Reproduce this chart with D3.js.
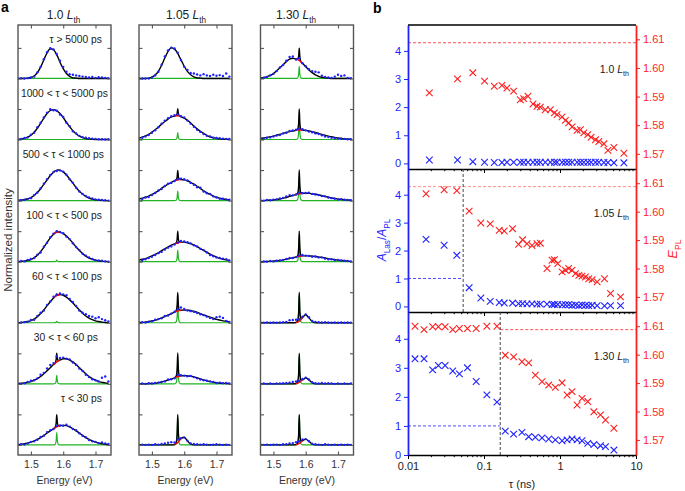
<!DOCTYPE html>
<html>
<head>
<meta charset="utf-8">
<script src="https://d3js.org/d3.v7.min.js"></script>
<style>
body { margin: 0; background: #fff; }
svg { font-family: "Liberation Sans", Arial, Helvetica, sans-serif; }
</style>
</head>
<body>
<svg id="chart" width="685" height="491"></svg>
<script>
/* ---------- panel a data ---------- */
var powers = ["1.0", "1.05", "1.30"];
var delays = ["\u03c4 > 5000 ps", "1000 < \u03c4 < 5000 ps", "500 < \u03c4 < 1000 ps",
  "100 < \u03c4 < 500 ps", "60 < \u03c4 < 100 ps", "30 < \u03c4 < 60 ps", "\u03c4 < 30 ps"];
var energyTicks = [1.5, 1.6, 1.7];

// energies of the fitted curves (eV)
var eFit = [1.46,1.47,1.48,1.49,1.50,1.51,1.52,1.53,1.54,1.55,1.56,1.57,1.575,1.578,1.58,1.582,1.585,
  1.59,1.60,1.61,1.62,1.63,1.64,1.65,1.66,1.67,1.68,1.69,1.70,1.71,1.72,1.73,1.74];
// energies of the measured points (eV)
var eDot = [1.46,1.47,1.48,1.49,1.50,1.51,1.52,1.53,1.54,1.55,1.56,1.57,1.58,1.59,1.60,
  1.61,1.62,1.63,1.64,1.65,1.66,1.67,1.68,1.69,1.70,1.71,1.72,1.73,1.74];

// broad PL component (percent), one list per delay, for each power
var broad1 = [
  [0,0,0,1,3,8,19,37,61,84,97,94,87,81,77,73,66,53,32,16,7,2,1,0,0,0,0,0,0,0,0,0,0],
  [1,2,4,8,14,24,37,53,70,85,95,98,97,95,94,93,90,85,72,56,42,29,19,11,6,3,2,1,0,0,0,0,0],
  [1,2,3,6,10,17,27,39,53,68,82,93,97,98,99,100,100,99,94,84,71,57,43,31,21,14,8,5,3,1,1,0,0],
  [0,1,2,4,7,13,21,33,47,63,78,90,94,95,96,97,97,96,92,84,73,61,48,37,27,18,12,8,5,3,1,1,0],
  [0,1,2,4,7,12,20,30,42,56,69,81,86,88,89,90,91,92,90,84,75,65,53,42,31,22,15,10,6,4,2,1,0],
  [1,2,3,5,7,12,17,24,33,43,53,63,67,70,72,73,75,78,82,82,78,72,63,53,43,33,24,17,12,7,5,3,2],
  [1,2,4,6,9,13,18,24,31,39,46,53,56,58,59,60,61,63,64,63,59,53,46,39,31,24,18,13,9,6,4,2,1]
];
var broad2 = [
  [0,0,0,1,4,11,23,43,67,89,100,96,90,85,81,78,71,61,40,23,12,5,2,1,0,0,0,0,0,0,0,0,0],
  [5,8,12,17,24,32,41,50,59,67,74,77,78,78,78,78,77,75,70,63,54,44,35,27,20,14,9,6,4,2,1,1,0],
  [5,8,11,15,20,26,32,40,47,54,60,65,67,67,68,68,69,69,68,65,60,54,47,40,32,26,20,15,11,8,5,4,2],
  [5,8,10,14,19,24,29,36,42,48,54,58,60,61,62,62,63,64,64,62,59,55,49,43,37,31,25,20,15,11,8,6,4],
  [1,1,2,4,6,8,12,16,20,25,30,35,37,38,39,39,40,41,42,41,40,37,34,30,26,22,18,15,11,9,6,5,3],
  [0,0,0,1,1,2,4,6,9,12,16,20,22,23,24,24,25,26,27,26,25,23,20,16,13,10,8,5,4,2,2,1,1],
  [0,0,0,0,0,0,0,0,0,0,0,1,4,6,8,10,14,21,25,13,3,0,0,0,0,0,0,0,0,0,0,0,0]
];
var broad3 = [
  [1,3,6,10,16,25,35,45,55,63,66,64,62,60,59,57,54,50,39,28,19,12,7,4,2,1,0,0,0,0,0,0,0],
  [4,5,7,9,11,14,17,20,23,26,28,30,31,31,31,31,31,31,30,28,26,23,20,17,14,11,9,7,5,4,2,2,1],
  [0,0,1,1,2,4,5,8,10,14,17,20,21,22,22,23,23,24,24,24,22,21,19,16,14,11,9,7,5,4,3,2,1],
  [0,0,1,1,2,3,4,6,8,10,13,15,16,17,17,18,18,19,19,19,18,17,15,14,12,10,8,7,5,4,3,2,1],
  [0,0,0,0,0,0,0,0,0,0,0,1,2,4,5,7,10,17,26,16,4,0,0,0,0,0,0,0,0,0,0,0,0],
  [0,0,0,0,0,0,0,0,0,0,0,1,2,4,5,6,9,13,19,13,4,0,0,0,0,0,0,0,0,0,0,0,0],
  [0,0,0,0,0,0,0,0,0,0,0,1,2,4,5,6,9,14,19,12,3,0,0,0,0,0,0,0,0,0,0,0,0]
];
// lasing line: profile on eFit and peak height for each delay
var spikeShape = [0,0,0,0,0,0,0,0,0,0,0,0,0.04,0.3,1,0.3,0.04,0,0,0,0,0,0,0,0,0,0,0,0,0,0,0,0];
var spike1 = [0, 0, 0, 0.05, 0.05, 0.28, 0.40];
var spike2 = [0, 0.23, 0.31, 0.38, 0.60, 0.77, 0.92];
var spike3 = [0.40, 0.69, 0.78, 0.83, 0.95, 0.95, 0.95];

// measured spectra (percent)
var dots1 = [
  [0,1,0,1,3,6,20,38,63,86,99,95,80,58,38,22,14,12,10,8,6,5,3,5,2,4,3,2,1],
  [1,2,5,7,16,22,40,55,72,88,99,96,94,82,74,55,44,27,20,12,8,6,4,3,2,1,1,0,1],
  [0,1,3,5,8,18,26,40,55,70,84,94,97,99,95,85,70,58,42,30,22,15,10,7,4,3,2,1,0],
  [1,2,1,6,9,12,23,30,49,62,80,92,100,97,93,82,74,60,48,38,26,20,14,9,5,4,3,1,0],
  [0,1,2,3,9,10,22,33,40,58,70,85,92,96,93,90,78,68,55,40,33,28,22,20,15,18,12,8,4],
  [1,0,2,6,10,12,18,30,36,50,62,68,90,85,86,82,80,70,62,50,42,30,22,15,12,8,20,24,8],
  [1,2,1,5,10,12,17,26,30,42,48,52,62,64,63,66,60,52,48,38,30,25,16,12,10,6,8,5,3]
];
var dots2 = [
  [0,0,0,0,3,10,22,45,72,92,101,98,84,60,38,28,18,16,13,10,14,10,8,12,9,11,8,16,6],
  [3,6,10,15,22,30,40,52,62,70,76,80,82,76,72,62,52,42,32,25,18,12,10,6,5,4,3,2,2],
  [3,5,10,12,18,25,33,38,48,55,58,64,70,72,70,66,58,52,44,42,30,24,22,14,10,6,6,4,3],
  [2,4,8,12,16,22,28,32,40,46,50,56,62,68,66,64,60,54,50,42,38,30,22,18,14,12,10,8,4],
  [1,2,1,3,5,10,12,15,22,24,30,36,44,50,45,40,38,36,32,28,25,20,16,12,18,20,16,6,3],
  [0,1,0,2,1,3,4,6,8,14,15,18,30,28,27,25,26,22,18,14,12,10,8,6,3,4,2,3,1],
  [0,1,0,1,0,2,1,3,5,7,9,8,18,22,24,14,5,3,2,1,2,1,0,1,2,1,0,1,0]
];
var dots3 = [
  [1,2,5,10,15,24,36,44,58,70,72,62,66,50,40,30,24,22,20,9,5,3,2,6,12,8,10,2,1],
  [2,3,6,7,10,13,15,20,22,28,30,32,35,34,30,26,24,20,18,14,10,8,6,4,3,2,2,1,1],
  [1,0,2,1,3,4,7,9,14,18,17,20,26,24,25,26,22,20,18,15,14,10,8,6,4,5,3,2,1],
  [0,1,0,2,1,3,4,6,9,12,12,15,20,22,20,19,16,17,14,14,10,8,8,5,6,4,3,2,1],
  [1,0,1,0,1,0,1,2,3,8,9,10,12,20,27,18,6,3,2,1,2,1,0,1,0,1,0,1,0],
  [0,1,0,1,0,1,1,2,3,4,6,8,10,16,20,14,5,2,1,3,1,2,1,0,1,0,1,0,1],
  [1,0,1,0,1,1,0,2,2,5,6,9,12,18,19,12,4,2,1,0,2,1,0,1,0,1,0,1,0]
];

/* ---------- panel b data ---------- */
var tau1 = [0.0191,0.0448,0.0713,0.1016,0.1364,0.172,0.2004,0.2454,0.3004,0.3324,0.379,0.4413,0.498,
  0.551,0.641,0.747,0.844,0.915,1.065,1.178,1.303,1.443,1.68,1.858,2.056,2.32,2.57,2.93,3.24,3.78,4.27,5.12,6.93];
var ratio1 = [0.12,0.12,0.06,0.04,0.03,0.03,0.04,0.04,0.04,0.04,0.04,0.04,0.04,0.04,0.04,0.04,0.04,
  0.04,0.04,0.04,0.04,0.04,0.04,0.04,0.04,0.04,0.04,0.04,0.04,0.03,0.03,0.02,0.02];
var epl1 = [1.5913,1.5962,1.5983,1.5954,1.5936,1.5939,1.5930,1.5919,1.5889,1.5893,1.5901,1.5874,1.5866,
  1.5863,1.5854,1.5854,1.5843,1.5837,1.5829,1.5817,1.5808,1.5794,1.5782,1.5784,1.5773,1.5767,1.5758,
  1.5749,1.5743,1.5735,1.5712,1.5722,1.5702];

var tau2 = [0.01728,0.0299,0.0439,0.0638,0.0909,0.1208,0.1586,0.1847,0.2378,0.2855,0.322,0.368,0.428,
  0.498,0.551,0.675,0.786,0.844,0.934,1.065,1.178,1.30,1.44,1.60,1.77,1.95,2.16,2.39,2.65,3.08,3.85,4.62,6.26];
var ratio2 = [2.40,2.19,1.83,0.67,0.30,0.18,0.14,0.12,0.12,0.10,0.10,0.09,0.09,0.08,0.08,0.08,0.07,
  0.07,0.07,0.06,0.06,0.06,0.04,0.05,0.03,0.05,0.04,0.03,0.04,0.03,0.02,0.03,0.03];
var epl2 = [1.6063,1.6077,1.6074,1.6002,1.5960,1.5957,1.5934,1.5932,1.5940,1.5885,1.5901,1.5887,1.5881,
  1.5887,1.5889,1.5800,1.5829,1.5831,1.5817,1.5788,1.5794,1.5800,1.5794,1.5782,1.5776,1.5773,1.5770,
  1.5764,1.5761,1.5753,1.5764,1.5712,1.5700];

var tau3 = [0.01236,0.01626,0.0211,0.0251,0.0308,0.0388,0.0475,0.0606,0.0789,0.109,0.148,0.1905,0.2453,
  0.316,0.387,0.474,0.580,0.710,0.869,1.065,1.24,1.44,1.68,1.95,2.32,2.79,3.41,3.97,5.12];
var ratio3 = [3.31,3.31,2.93,3.08,3.08,2.89,2.79,3.00,2.53,2.07,1.82,0.82,0.72,0.78,0.63,0.61,0.59,
  0.55,0.52,0.49,0.52,0.55,0.52,0.49,0.40,0.36,0.32,0.29,0.17];
var epl3 = [1.6100,1.6088,1.6098,1.6098,1.6098,1.6088,1.6092,1.6092,1.6092,1.6100,1.6100,1.5998,1.5992,
  1.5975,1.5971,1.5928,1.5905,1.5893,1.5885,1.5901,1.5858,1.5870,1.5823,1.5846,1.5835,1.5799,1.5788,
  1.5770,1.5741];

var eRef = 1.6088;              // dashed red level
var ratioRef = 1;               // dashed blue level
var tauOnset = [null, 0.0532, 0.1636];
var tauMajor = [0.01, 0.1, 1, 10];
var tauMinor = [0.02,0.03,0.04,0.05,0.06,0.07,0.08,0.09,0.2,0.3,0.4,0.5,0.6,0.7,0.8,0.9,2,3,4,5,6,7,8,9];
var ratioTicks = [0, 1, 2, 3, 4];
var eplTicks = [1.57, 1.58, 1.59, 1.60, 1.61];

/* ---------- drawing ---------- */
var svg = d3.select("#chart");
var BLUE = "#1f22ff", RED = "#ff1f1f", GREEN = "#22b322";

// text with italic / subscript pieces
function richText(g, parts, size) {
  var t = g.append("text").attr("font-size", size);
  var shift = 0;
  parts.forEach(function(p) {
    var s = t.append("tspan").text(p.t);
    var want = p.sub ? size * 0.3 : 0;
    if (want !== shift) { s.attr("dy", want - shift); shift = want; }
    if (p.sub) s.attr("font-size", size * 0.68);
    if (p.i) s.attr("font-style", "italic");
  });
  return t;
}

svg.append("text").attr("x", 1).attr("y", 12).attr("font-size", 14)
  .attr("font-weight", "bold").text("a");
svg.append("text").attr("x", 373).attr("y", 13).attr("font-size", 14)
  .attr("font-weight", "bold").text("b");

var colLeft = [18, 139, 260.5], colW = 93;
var titleX = [63.5, 186, 296];
var labelEnd = [102, 108, 104, 102, 102, 98, 102];
var aTop = 25, aBot = 455;
var ya = d3.scaleLinear().domain([-0.33, 13.75]).range([aBot, aTop]);
var broadAll = [broad1, broad2, broad3], spikeAll = [spike1, spike2, spike3], dotsAll = [dots1, dots2, dots3];

powers.forEach(function(pw, ci) {
  var x0 = colLeft[ci];
  var xa = d3.scaleLinear().domain([1.46, 1.748]).range([x0, x0 + colW]);
  var g = svg.append("g");

  g.append("clipPath").attr("id", "clipA" + ci).append("rect")
    .attr("x", x0).attr("y", aTop).attr("width", colW).attr("height", aBot - aTop);

  richText(g, [{t: pw + " "}, {t: "L", i: true}, {t: "th", sub: true}], 12)
    .attr("x", titleX[ci]).attr("y", 19).attr("text-anchor", "middle").attr("fill", "#222");

  var plot = g.append("g").attr("clip-path", "url(#clipA" + ci + ")");
  var line = d3.line().x(function(d) { return xa(d.e); }).y(function(d) { return ya(d.v); })
    .curve(d3.curveMonotoneX);

  for (var r = 0; r < 7; r++) {
    var off = (6 - r) * 2;
    var b = broadAll[ci][r], sp = spikeAll[ci][r];
    var fit = eFit.map(function(e, i) {
      return {e: e, broad: b[i] / 100, spike: sp * spikeShape[i]};
    });
    plot.append("path").attr("fill", "none").attr("stroke", GREEN).attr("stroke-width", 1.2)
      .attr("d", line(fit.map(function(d) { return {e: d.e, v: d.spike + off}; })));
    plot.append("path").attr("fill", "none").attr("stroke", "#000").attr("stroke-width", 1.4)
      .attr("d", line(fit.map(function(d) { return {e: d.e, v: d.broad + d.spike + off}; })));
    if (sp > 0) {
      plot.append("path").attr("fill", "none").attr("stroke", "#ff0000").attr("stroke-width", 1.4)
        .attr("d", line(fit.slice(11, 18).map(function(d) { return {e: d.e, v: d.broad + off}; })));
    }
    plot.selectAll(null).data(eDot.map(function(e, i) { return {e: e, v: dotsAll[ci][r][i] / 100 + off}; }))
      .enter().append("circle")
      .attr("cx", function(d) { return xa(d.e); }).attr("cy", function(d) { return ya(d.v); })
      .attr("r", 1.2).attr("fill", BLUE);

    if (ci === 0) {
      g.append("text").attr("x", labelEnd[r]).attr("y", ya(off + (r === 0 ? 1.15 : 1.4)))
        .attr("text-anchor", "end").attr("font-size", 10.3).attr("fill", "#222").text(delays[r]);
    }
  }

  // frame with inward ticks
  var yTicks = d3.range(0, 14);
  g.append("g").attr("transform", "translate(" + x0 + ",0)")
    .call(d3.axisLeft(ya).tickValues(yTicks).tickSize(-3.5).tickFormat(""));
  g.append("g").attr("transform", "translate(" + (x0 + colW) + ",0)")
    .call(d3.axisRight(ya).tickValues(yTicks).tickSize(-3.5).tickFormat(""));
  g.append("g").attr("transform", "translate(0," + aTop + ")")
    .call(d3.axisTop(xa).tickValues(energyTicks).tickSize(-3.5).tickFormat(""));
  g.append("g").attr("transform", "translate(0," + aBot + ")")
    .call(d3.axisBottom(xa).tickValues(energyTicks).tickSize(-3.5).tickPadding(5.5)
      .tickFormat(d3.format(".1f")))
    .call(function(a) { a.selectAll("text").attr("font-size", 10.5).attr("fill", "#333")
      .attr("font-family", null); });
  g.selectAll(".domain").remove();
  g.selectAll(".tick line").attr("stroke", "#555").attr("stroke-width", 1.1);
  g.append("rect").attr("x", x0).attr("y", aTop).attr("width", colW).attr("height", aBot - aTop)
    .attr("fill", "none").attr("stroke", "#555").attr("stroke-width", 1.4);

  g.append("text").attr("x", x0 + colW / 2).attr("y", 484).attr("text-anchor", "middle")
    .attr("font-size", 10.5).attr("fill", "#333").text("Energy (eV)");
});

svg.append("text").attr("transform", "translate(12,240) rotate(-90)").attr("text-anchor", "middle")
  .attr("font-size", 11.5).attr("fill", "#333").text("Normalized intensity");

/* panel b */
var bL = 408, bR = 636;
var subTop = [25, 169, 312], subBot = [169, 312, 455];
var xb = d3.scaleLog().domain([0.01, 10]).range([bL, bR]);
var subs = [
  {tau: tau1, ratio: ratio1, epl: epl1, name: "1.0"},
  {tau: tau2, ratio: ratio2, epl: epl2, name: "1.05"},
  {tau: tau3, ratio: ratio3, epl: epl3, name: "1.30"}
];
var cross = "M-3.3,-3.3L3.3,3.3M-3.3,3.3L3.3,-3.3";

subs.forEach(function(s, si) {
  var g = svg.append("g");
  var yl = d3.scaleLinear().domain(si < 2 ? [-0.2, 4.92] : [0, 4.92]).range([subBot[si], subTop[si]]);
  var yr = d3.scaleLinear().domain([1.5647, 1.615]).range([subBot[si], subTop[si]]);
  var on = tauOnset[si];

  g.append("line").attr("x1", on ? (si === 2 ? xb(on) : bL) : bL).attr("x2", bR)
    .attr("y1", yr(eRef)).attr("y2", yr(eRef))
    .attr("stroke", si === 1 ? "#ff8080" : "#ff4040").attr("stroke-width", 0.9).attr("stroke-dasharray", "3,2");
  if (on) {
    g.append("line").attr("x1", bL).attr("x2", xb(on)).attr("y1", yl(ratioRef)).attr("y2", yl(ratioRef))
      .attr("stroke", "#3a3aff").attr("stroke-width", 0.9).attr("stroke-dasharray", "3,2");
    g.append("line").attr("x1", xb(on)).attr("x2", xb(on)).attr("y1", subTop[si]).attr("y2", subBot[si])
      .attr("stroke", "#333").attr("stroke-width", 0.9).attr("stroke-dasharray", "3,2");
  }

  g.selectAll(null).data(s.tau).enter().append("path").attr("d", cross)
    .attr("transform", function(d, i) { return "translate(" + xb(d) + "," + yl(s.ratio[i]) + ")"; })
    .attr("fill", "none").attr("stroke", BLUE).attr("stroke-width", 1.1);
  g.selectAll(null).data(s.tau).enter().append("path").attr("d", cross)
    .attr("transform", function(d, i) { return "translate(" + xb(d) + "," + yr(s.epl[i]) + ")"; })
    .attr("fill", "none").attr("stroke", RED).attr("stroke-width", 1.1);

  // bottom axis (labels only on the last one)
  var xAx = g.append("g").attr("transform", "translate(0," + subBot[si] + ")")
    .call(d3.axisBottom(xb).tickValues(tauMajor).tickSize(4).tickSizeOuter(0)
      .tickFormat(si === 2 ? function(d) { return String(d); } : ""));
  xAx.selectAll("text").attr("font-size", 11).attr("fill", "#222").attr("font-family", null);
  xAx.select(".domain").attr("stroke", "#000").attr("stroke-width", 1.3);
  g.append("g").attr("transform", "translate(0," + subBot[si] + ")")
    .call(d3.axisBottom(xb).tickValues(tauMinor).tickSize(2.2).tickSizeOuter(0).tickFormat(""))
    .call(function(a) { a.select(".domain").remove(); });

  var lAx = g.append("g").attr("transform", "translate(" + bL + ",0)")
    .call(d3.axisLeft(yl).tickValues(ratioTicks).tickSize(4).tickSizeOuter(0).tickFormat(d3.format("d")));
  lAx.selectAll("text").attr("font-size", 11).attr("fill", BLUE).attr("font-family", null);
  lAx.selectAll(".tick line").attr("stroke", BLUE);
  lAx.select(".domain").attr("stroke", BLUE).attr("stroke-width", 1.8);

  var rAx = g.append("g").attr("transform", "translate(" + bR + ",0)")
    .call(d3.axisRight(yr).tickValues(eplTicks).tickSize(4).tickSizeOuter(0).tickFormat(d3.format(".2f")));
  rAx.selectAll("text").attr("font-size", 11).attr("fill", RED).attr("font-family", null);
  rAx.selectAll(".tick line").attr("stroke", RED);
  rAx.select(".domain").attr("stroke", RED).attr("stroke-width", 1.8);

  richText(g, [{t: s.name + " "}, {t: "L", i: true}, {t: "th", sub: true}], 10.5)
    .attr("x", 629).attr("y", subTop[si] + 48).attr("text-anchor", "end").attr("fill", "#222");
});

svg.append("line").attr("x1", bL).attr("x2", bR).attr("y1", 25).attr("y2", 25)
  .attr("stroke", "#000").attr("stroke-width", 1.3);

svg.append("text").attr("x", (bL + bR) / 2).attr("y", 488).attr("text-anchor", "middle")
  .attr("font-size", 11).attr("fill", "#222").text("\u03c4 (ns)");

richText(svg, [{t: "A", i: true}, {t: "Las", sub: true}, {t: "/"}, {t: "A", i: true}, {t: "PL", sub: true}], 12)
  .attr("transform", "translate(386,240) rotate(-90)").attr("text-anchor", "middle").attr("fill", BLUE);
richText(svg, [{t: "E", i: true}, {t: "PL", sub: true}], 12.5)
  .attr("transform", "translate(677,249) rotate(-90)").attr("text-anchor", "middle").attr("fill", RED);
</script>
</body>
</html>
